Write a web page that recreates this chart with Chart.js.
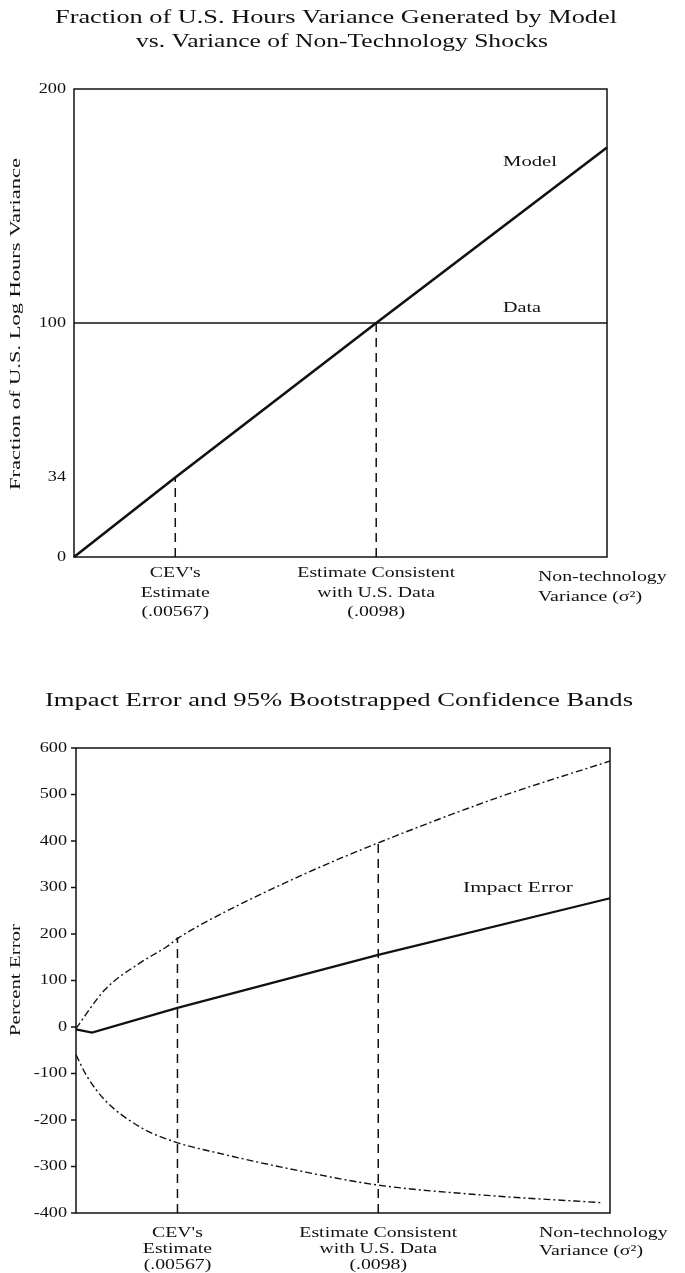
<!DOCTYPE html>
<html>
<head>
<meta charset="utf-8">
<script src="https://cdn.jsdelivr.net/npm/chart.js@4.4.0/dist/chart.umd.min.js"></script>
<style>
    body { margin: 0; background: #fff; }
    .page { position: relative; width: 685px; height: 1273px; }
    canvas { position: absolute; left: 0; }
    #fracChart { top: 0; }
    #errChart { top: 640px; }
</style>
</head>
<body>
<div class="page">
    <canvas id="fracChart" width="685" height="640"></canvas>
    <canvas id="errChart" width="685" height="633"></canvas>
</div>
<script>
const FONT = '"Liberation Serif", "Times New Roman", serif';
const INK = '#111';

// Top chart: fraction of hours variance (x runs 0..1 along the variance axis)
const fracTicks = [0, 34, 100, 200];
const modelX = [0, 0.19, 0.567, 1];
const modelVals = [0, 34, 100, 175];
const dataX = [0, 1];
const dataVals = [100, 100];
const fracMarkX = [0.19, 0.567];
const fracMarkTop = [34, 100];

// Bottom chart: impact error and bootstrapped bands
const errTicks = [600, 500, 400, 300, 200, 100, 0, -100, -200, -300, -400];
const impactX = [0, 0.03, 0.19, 0.566, 1];
const impactVals = [-5, -12, 41, 155, 277];
const upperX = [0, 0.054, 0.12, 0.169, 0.19, 0.232, 0.42, 0.566, 0.794, 1];
const upperVals = [-3, 80, 138, 172, 190, 219, 325, 396, 495, 572];
const lowerX = [0, 0.02, 0.054, 0.12, 0.185, 0.266, 0.43, 0.566, 0.757, 0.987];
const lowerVals = [-60, -105, -157, -215, -247, -271, -312, -340, -361, -378];
const errMarkX = [0.19, 0.566];
const errMarkTop = [193, 396];

// Axis texts
const markLabels = [
    ["CEV's", 'Estimate', '(.00567)'],
    ['Estimate Consistent', 'with U.S. Data', '(.0098)']
];
const endLabel = ['Non-technology', 'Variance (\u03c3\u00b2)'];

function pts(xs, ys) {
    return xs.map((x, i) => ({ x: x, y: ys[i] }));
}

// Text is drawn a little stretched, like the scanned original
function drawText(ctx, str, x, y, o) {
    const size = o.size || 15;
    ctx.save();
    ctx.font = size + 'px ' + FONT;
    ctx.fillStyle = INK;
    const w = ctx.measureText(str).width;
    const sx = o.width ? o.width / w : (o.stretch || 1.32);
    ctx.translate(x, y);
    if (o.rotate) ctx.rotate(-Math.PI / 2);
    ctx.scale(sx, 1);
    ctx.textAlign = o.align || 'left';
    ctx.textBaseline = o.baseline || 'alphabetic';
    ctx.fillText(str, 0, 0);
    ctx.restore();
}

const paperPlugin = {
    id: 'paper',
    afterDraw(chart, args, opts) {
        const ctx = chart.ctx;
        const a = chart.chartArea;
        const xs = chart.scales.x;
        const ys = chart.scales.y;

        // frame
        ctx.save();
        ctx.strokeStyle = INK;
        ctx.lineWidth = 1.5;
        ctx.strokeRect(a.left, a.top, a.right - a.left, a.bottom - a.top);

        // y ticks
        opts.ticks.forEach(v => {
            const py = ys.getPixelForValue(v);
            if (opts.tickLen) {
                ctx.beginPath();
                ctx.moveTo(a.left - opts.tickLen, py);
                ctx.lineTo(a.left, py);
                ctx.stroke();
            }
            drawText(ctx, String(v), opts.tickRight, py, { size: 14, align: 'right', baseline: 'middle', stretch: 1.3 });
        });
        ctx.restore();

        // labels under the marked variances
        opts.markX.forEach((m, i) => {
            const px = xs.getPixelForValue(m);
            markLabels[i].forEach((s, j) => {
                drawText(ctx, s, px, opts.markBase + j * opts.markGap, { align: 'center' });
            });
        });
        endLabel.forEach((s, j) => {
            drawText(ctx, s, opts.endLeft, opts.endBase + j * opts.endGap, {});
        });

        opts.texts.forEach(t => drawText(ctx, t.s, t.x, t.y, t));
    }
};

function makeChart(id, datasets, yMin, yMax, padding, plug) {
    const ctx = document.getElementById(id).getContext('2d');
    return new Chart(ctx, {
        type: 'line',
        data: { datasets: datasets },
        options: {
            responsive: false,
            animation: false,
            devicePixelRatio: 1,
            layout: { padding: padding },
            plugins: {
                legend: { display: false },
                tooltip: { enabled: false },
                paper: plug
            },
            elements: { point: { radius: 0 } },
            scales: {
                x: { type: 'linear', min: 0, max: 1, display: false },
                y: { min: yMin, max: yMax, display: false }
            }
        },
        plugins: [paperPlugin]
    });
}

function markSets(xs, bottom, tops) {
    return xs.map((m, i) => ({
        data: [{ x: m, y: bottom }, { x: m, y: tops[i] }],
        borderColor: INK,
        borderWidth: 1.5,
        borderDash: [9, 6],
        clip: false
    }));
}

// Top chart
makeChart('fracChart', [
    { data: pts(modelX, modelVals), borderColor: INK, borderWidth: 2.6, clip: false },
    { data: pts(dataX, dataVals), borderColor: INK, borderWidth: 1.5, clip: false },
    ...markSets(fracMarkX, 0, fracMarkTop)
], 0, 200, { left: 74, right: 78, top: 89, bottom: 83 }, {
    ticks: fracTicks,
    tickLen: 0,
    tickRight: 66,
    markX: fracMarkX,
    markBase: 577,
    markGap: 19.5,
    endLeft: 538,
    endBase: 581,
    endGap: 20,
    texts: [
        { s: 'Fraction of U.S. Hours Variance Generated by Model', x: 336, y: 23, size: 19, align: 'center', width: 562 },
        { s: 'vs. Variance of Non-Technology Shocks', x: 342, y: 47, size: 19, align: 'center', width: 412 },
        { s: 'Fraction of U.S. Log Hours Variance', x: 16, y: 324, size: 15, align: 'center', baseline: 'middle', rotate: true, width: 332 },
        { s: 'Model', x: 503, y: 166, size: 15, width: 54 },
        { s: 'Data', x: 503, y: 312, size: 15, width: 38 }
    ]
});

// Bottom chart
makeChart('errChart', [
    { data: pts(impactX, impactVals), borderColor: INK, borderWidth: 2.2, clip: false },
    { data: pts(upperX, upperVals), borderColor: INK, borderWidth: 1.4, borderDash: [7, 3, 2, 3], cubicInterpolationMode: 'monotone', clip: false },
    { data: pts(lowerX, lowerVals), borderColor: INK, borderWidth: 1.4, borderDash: [7, 3, 2, 3], cubicInterpolationMode: 'monotone', clip: false },
    ...markSets(errMarkX, -400, errMarkTop)
], -400, 600, { left: 76, right: 75, top: 108, bottom: 60 }, {
    ticks: errTicks,
    tickLen: 5,
    tickRight: 67,
    markX: errMarkX,
    markBase: 597,
    markGap: 16,
    endLeft: 539,
    endBase: 597,
    endGap: 18,
    texts: [
        { s: 'Impact Error and 95% Bootstrapped Confidence Bands', x: 339, y: 66, size: 19, align: 'center', width: 588 },
        { s: 'Percent Error', x: 16, y: 340, size: 15, align: 'center', baseline: 'middle', rotate: true, width: 112 },
        { s: 'Impact Error', x: 463, y: 252, size: 15, width: 110 }
    ]
});
</script>
</body>
</html>
